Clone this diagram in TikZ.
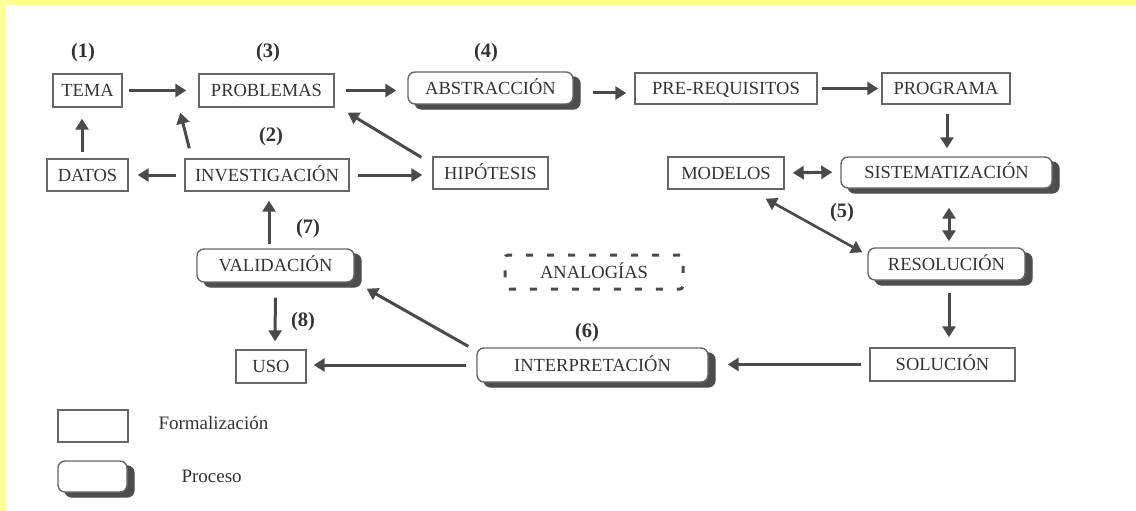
\documentclass[tikz,border=0pt]{standalone}
\usepackage{fontspec}
\setmainfont{Liberation Serif}
\usetikzlibrary{arrows.meta,shadows}
\definecolor{bandy}{HTML}{FFFF99}
\definecolor{linec}{HTML}{4A4A4A}
\definecolor{boxc}{HTML}{666666}
\definecolor{txtc}{HTML}{333333}
\definecolor{shadc}{HTML}{4D4D4D}
\begin{document}
\begin{tikzpicture}[x=1pt,y=-1pt,
  every node/.style={font=\fontsize{18.5}{20}\selectfont, text=txtc},
  formal/.style={draw=boxc, line width=1.4pt, inner sep=0pt, minimum height=32pt, fill=white, text height=12.2pt, text depth=0pt},
  proc/.style={formal, rounded corners=7pt, general shadow={shadow xshift=7pt, shadow yshift=-5pt, fill=shadc, draw=shadc}},
  analog/.style={draw=linec, line width=3pt, dash pattern=on 7pt off 14pt, rounded corners=3pt, inner sep=0pt, text height=12.2pt, text depth=0pt},
  lbl/.style={font=\bfseries\fontsize{20.5}{22}\selectfont},
  legtext/.style={anchor=west, font=\fontsize{19}{21}\selectfont},
  arr/.style={draw=linec, line width=3pt, -{Triangle[length=11pt,width=13pt]}},
  darr/.style={draw=linec, line width=3pt, {Triangle[length=11pt,width=13pt]}-{Triangle[length=11pt,width=13pt]}}
]
\fill[bandy] (0,0) rectangle (1136,511);
\fill[white] (6,5) rectangle (1136,511);
\useasboundingbox (0,0) rectangle (1136,511);

% row 1
\node[formal, minimum width=69pt, minimum height=33pt] (tema) at (87.5,90.5) {TEMA};
\node[formal, minimum width=135pt, minimum height=33pt] (prob) at (266.5,90.5) {PROBLEMAS};
\node[proc, minimum width=165pt] (abs) at (490.5,88) {ABSTRACCIÓN};
\node[formal, minimum width=182pt, minimum height=31pt] (pre) at (726,88.5) {PRE-REQUISITOS};
\node[formal, minimum width=128pt, minimum height=31pt] (prog) at (946,88.5) {PROGRAMA};
% row 2
\node[formal, minimum width=81pt] (dat) at (87.5,175) {DATOS};
\node[formal, minimum width=164pt] (inv) at (267,175) {INVESTIGACIÓN};
\node[formal, minimum width=115pt] (hip) at (490.5,173) {HIPÓTESIS};
\node[formal, minimum width=116pt] (mod) at (726,173) {MODELOS};
\node[proc, minimum width=211pt, minimum height=31pt] (sis) at (946.5,172.5) {SISTEMATIZACIÓN};
% row 3
\node[proc, minimum width=157pt, minimum height=33pt] (val) at (275.5,265.5) {VALIDACIÓN};
\node[analog, minimum width=178pt, minimum height=34pt] (ana) at (594,272) {ANALOGÍAS};
\node[proc, minimum width=157pt] (res) at (946.5,264) {RESOLUCIÓN};
% row 4
\node[formal, minimum width=70pt, minimum height=33pt] (uso) at (271,366.5) {USO};
\node[proc, minimum width=231pt, minimum height=34pt] (int) at (592.5,365) {INTERPRETACIÓN};
\node[formal, minimum width=145pt, minimum height=33pt] (sol) at (942.5,364.5) {SOLUCIÓN};

% labels
\node[lbl] (l1) at (83,53) {(1)};
\node[lbl] (l3) at (268,53) {(3)};
\node[lbl] (l4) at (486,53) {(4)};
\node[lbl] (l2) at (271,137) {(2)};
\node[lbl] (l5) at (842,213) {(5)};
\node[lbl] (l7) at (308,229) {(7)};
\node[lbl] (l8) at (303,322) {(8)};
\node[lbl] (l6) at (587,333) {(6)};

% legend
\node[formal, minimum width=70pt, minimum height=32pt] (lf) at (93,426) {};
\node[legtext] (lft) at (155,423) {Formalización};
\node[proc, minimum width=69pt, minimum height=31pt] (lp) at (92.5,476.5) {};
\node[legtext] (lpt) at (178,476) {Proceso};

% connectors
\draw[arr, shorten <=6pt, shorten >=12pt] (tema.east) -- (prob.west);
\draw[arr, shorten <=11pt, shorten >=11pt] (prob.east) -- ([yshift=-2.5pt]abs.west);
\draw[arr, shorten <=19pt, shorten >=8pt] ([yshift=-5pt]abs.east) -- ([yshift=-4.5pt]pre.west);
\draw[arr, shorten <=4pt, shorten >=3pt] (pre.east) -- (prog.west);
\draw[arr, shorten <=9pt, shorten >=8pt] ([xshift=1pt]prog.south) -- ([xshift=0.5pt]sis.north);
\draw[darr, shorten <=8pt, shorten >=8pt] (mod.east) -- ([yshift=0.5pt]sis.west);
\draw[darr, shorten <=19pt, shorten >=6pt] ([xshift=2.5pt]sis.south) -- ([xshift=2.5pt]res.north);
\draw[arr, shorten <=12pt, shorten >=10pt] ([xshift=2.5pt]res.south) -- ([xshift=6.5pt]sol.north);
\draw[arr, shorten <=8pt, shorten >=19pt] (sol.west) -- (sol.west -| int.east);
\draw[arr, shorten <=10pt, shorten >=7pt] (int.west) -- (int.west -| uso.east);
\draw[arr] ([xshift=-8pt,yshift=1pt]int.north west) -- ([xshift=12pt,yshift=-6pt]val.south east);
\draw[arr, shorten <=15pt, shorten >=8pt] (val.south) -- ([xshift=4pt]uso.north);
\draw[arr, shorten <=4pt, shorten >=9pt] ([xshift=-6.5pt]val.north) -- ([xshift=2pt]inv.south);
\draw[arr, shorten <=8pt, shorten >=9pt] (inv.west) -- (dat.east);
\draw[arr, shorten <=6pt, shorten >=11pt] ([xshift=-5.5pt]dat.north) -- ([xshift=-5.5pt]tema.south);
\draw[arr] ([xshift=5pt,yshift=10pt]inv.north west) -- ([xshift=-18pt,yshift=-5pt]prob.south west);
\draw[arr, shorten <=8pt, shorten >=10pt] (inv.east) -- ([yshift=-2pt]hip.west);
\draw[arr] ([xshift=-11pt,yshift=-1pt]hip.north west) -- ([xshift=13pt,yshift=-5pt]prob.south east);
\draw[darr, line width=2.6pt] ([xshift=-19pt,yshift=-9pt]mod.south east) -- ([xshift=-5pt,yshift=-5pt]res.north west);
\end{tikzpicture}
\end{document}
